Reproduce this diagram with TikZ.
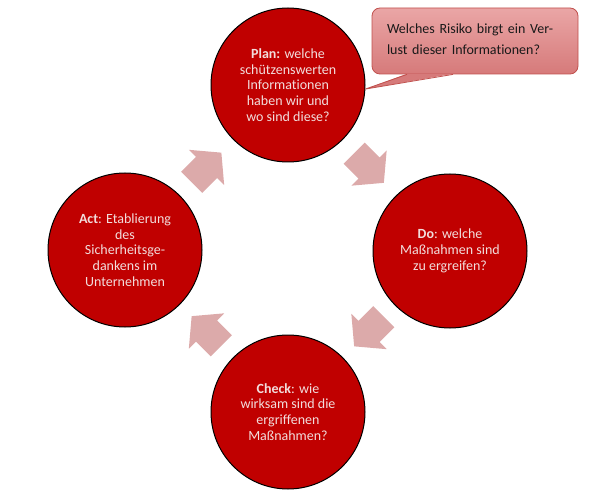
\documentclass[tikz,border=0pt]{standalone}
\usepackage{fontspec}
\setmainfont{Carlito}[Ligatures=NoCommon]
\usetikzlibrary{calc}
\definecolor{phasered}{RGB}{192,0,0}
\definecolor{phasetext}{RGB}{242,221,220}
\definecolor{arrowpink}{RGB}{220,170,170}
\definecolor{risktop}{RGB}{234,166,166}
\definecolor{riskbottom}{RGB}{214,122,122}
\definecolor{riskborder}{RGB}{192,80,77}
\begin{document}
\begin{tikzpicture}[x=1pt,y=-1pt,
  phase/.style={circle,draw=black,line width=1pt,fill=phasered,minimum size=154pt,inner sep=0pt,
    align=center,text=phasetext,font=\fontsize{14}{15.8}\selectfont},
  risk/.style={rectangle,rounded corners=8pt,draw=riskborder,line width=0.8pt,
    top color=risktop,bottom color=riskbottom,minimum width=206pt,minimum height=66pt,
    text width=176pt,text depth=25pt,align=left,inner sep=0pt,font=\fontsize{14}{21.6}\selectfont,text=black!90},
  cyclearrow/.pic={\fill[arrowpink] (-21,-15) -- (0,-15) -- (0,-25) -- (21,0) -- (0,25) -- (0,15) -- (-21,15) -- cycle;}]
\useasboundingbox (0,0) rectangle (592,497);
% the four phases
\node[phase] (plan) at (288,85) {\textbf{Plan:} welche\\schützenswerten\\Informationen\\haben wir und\\wo sind diese?};
\node[phase] (do) at (450,251) {\textbf{Do}: welche\\Maßnahmen sind\\zu ergreifen?};
\node[phase] (check) at (288,412) {\textbf{Check}: wie\\wirksam sind die\\ergriffenen\\Maßnahmen?};
\node[phase] (act) at (125,250) {\textbf{Act}: Etablierung\\des\\Sicherheitsge-\\dankens im\\Unternehmen};
% arrows between the phases
\path ($(act)!0.5!(plan)$) pic[rotate=45] {cyclearrow};
\path ($(plan)!0.5!(do)$) pic[rotate=-45] {cyclearrow};
\path ($(do)!0.5!(check)$) pic[rotate=-135] {cyclearrow};
\path ($(check)!0.5!(act)$) pic[rotate=135] {cyclearrow};
% callout
\node[risk] (risk) at (475,41) {Welches Risiko birgt ein Ver-\\lust dieser Informationen?};
\fill[riskbottom] ([xshift=-68pt,yshift=0.6pt]risk.south) -- (plan.-3) -- ([xshift=-22pt,yshift=0.6pt]risk.south) -- cycle;
\draw[riskborder,line width=0.8pt] ([xshift=-68pt]risk.south) -- (plan.-3) -- ([xshift=-22pt]risk.south);
\end{tikzpicture}
\end{document}
